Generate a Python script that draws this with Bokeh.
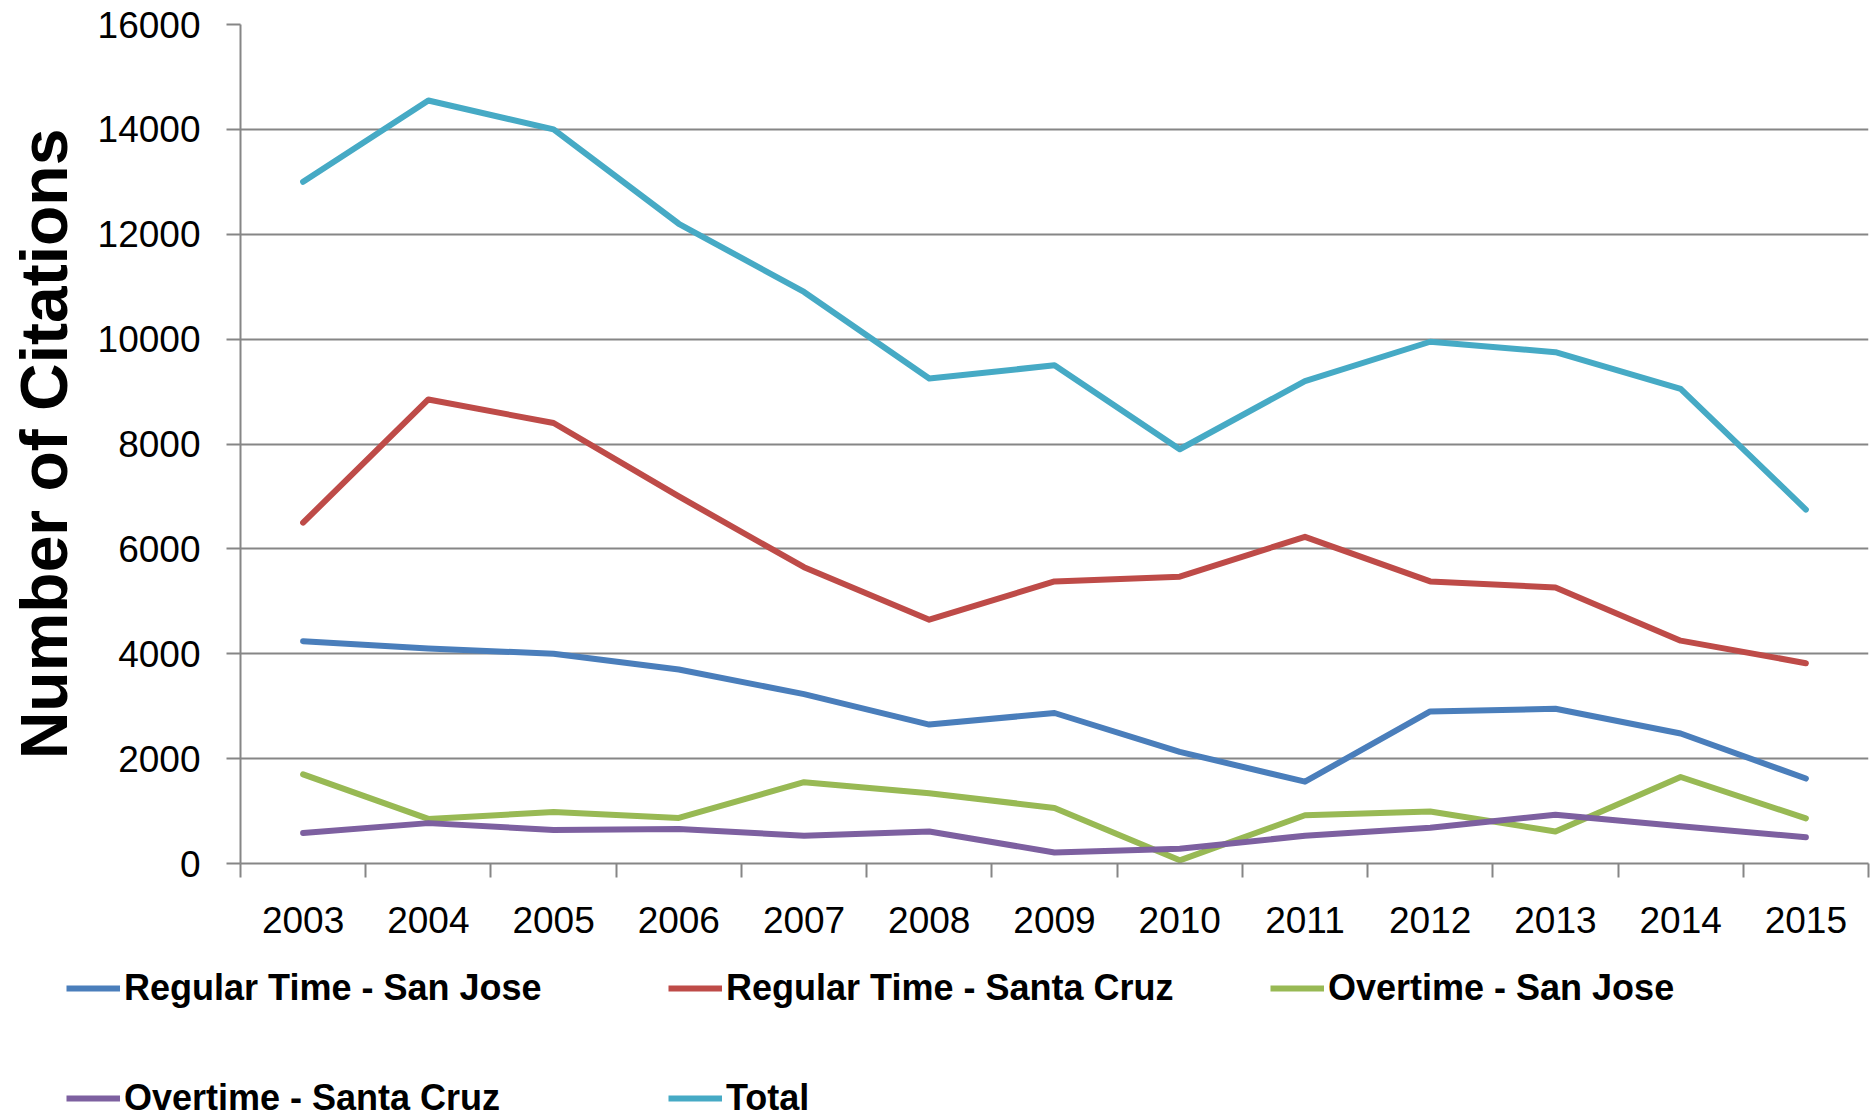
from bokeh.plotting import figure
from bokeh.models import Legend, LegendItem, FixedTicker, Range1d
from bokeh.layouts import column
from bokeh.embed import file_html
from bokeh.resources import INLINE

years = [2003, 2004, 2005, 2006, 2007, 2008, 2009, 2010, 2011, 2012, 2013, 2014, 2015]
regular_san_jose = [4240, 4100, 4000, 3700, 3230, 2650, 2870, 2130, 1560, 2900, 2950, 2480, 1620]
regular_santa_cruz = [6500, 8850, 8400, 7000, 5650, 4650, 5380, 5470, 6230, 5380, 5265, 4250, 3820]
overtime_san_jose = [1700, 850, 980, 870, 1550, 1340, 1060, 60, 920, 990, 610, 1650, 860]
overtime_santa_cruz = [580, 770, 640, 660, 530, 610, 210, 280, 530, 680, 930, 710, 500]
total = [13000, 14550, 14000, 12200, 10900, 9250, 9500, 7900, 9200, 9950, 9750, 9050, 6750]
y_ticks = [0, 2000, 4000, 6000, 8000, 10000, 12000, 14000, 16000]

series = [
    ("Regular Time - San Jose", regular_san_jose, "#4A7EBB"),
    ("Regular Time - Santa Cruz", regular_santa_cruz, "#BE4B48"),
    ("Overtime - San Jose", overtime_san_jose, "#98B954"),
    ("Overtime - Santa Cruz", overtime_santa_cruz, "#7D60A0"),
    ("Total", total, "#46AAC5"),
]

FONT = "Liberation Sans"
GREY = "#868686"
LW = 6

p = figure(width=1875, height=950, output_backend="svg", toolbar_location=None,
           x_range=Range1d(years[0] - 0.5, years[-1] + 0.5), y_range=Range1d(0, 16000),
           min_border_top=24, min_border_left=240, min_border_right=7, min_border_bottom=87)
p.outline_line_color = None
p.frame_align = False

for name, vals, col in series:
    p.line(years, vals, line_color=col, line_width=LW, line_join="round", line_cap="round")

# y axis
p.yaxis.ticker = FixedTicker(ticks=y_ticks)
p.yaxis.axis_line_color = GREY
p.yaxis.axis_line_width = 2
p.yaxis.major_tick_line_color = GREY
p.yaxis.major_tick_line_width = 2
p.yaxis.major_tick_out = 14
p.yaxis.major_tick_in = 0
p.yaxis.minor_tick_line_color = None
p.yaxis.major_label_text_font = FONT
p.yaxis.major_label_text_font_size = "37px"
p.yaxis.major_label_text_color = "black"
p.yaxis.major_label_standoff = 26
p.yaxis.axis_label = "Number of Citations"
p.yaxis.axis_label_text_font = FONT
p.yaxis.axis_label_text_font_style = "bold"
p.yaxis.axis_label_text_font_size = "66px"
p.yaxis.axis_label_text_color = "black"
p.yaxis.axis_label_standoff = 14

# x axis
p.xaxis.ticker = FixedTicker(ticks=years, minor_ticks=[y - 0.5 for y in years] + [years[-1] + 0.5])
p.xaxis.major_label_overrides = {y: str(y) for y in years}
p.xaxis.axis_line_color = GREY
p.xaxis.axis_line_width = 2
p.xaxis.major_tick_line_color = None
p.xaxis.major_tick_out = 0
p.xaxis.major_tick_in = 0
p.xaxis.minor_tick_line_color = GREY
p.xaxis.minor_tick_line_width = 2
p.xaxis.minor_tick_out = 14
p.xaxis.minor_tick_in = 0
p.xaxis.major_label_text_font = FONT
p.xaxis.major_label_text_font_size = "37px"
p.xaxis.major_label_text_color = "black"
p.xaxis.major_label_standoff = 29

p.xgrid.grid_line_color = None
p.ygrid.ticker = FixedTicker(ticks=y_ticks)
p.ygrid.grid_line_color = GREY
p.ygrid.grid_line_width = 2

# legend strip: same series, drawn outside its visible range so only the legend shows
pl = figure(width=1875, height=169, output_backend="svg", toolbar_location=None,
            x_range=Range1d(years[0] - 0.5, years[-1] + 0.5), y_range=Range1d(-2, -1),
            x_axis_location=None, y_axis_location=None,
            min_border_top=0, min_border_left=0, min_border_right=0, min_border_bottom=0)
pl.outline_line_color = None
pl.grid.grid_line_color = None
pl.frame_align = False
items = []
for name, vals, col in series:
    r = pl.line(years, vals, line_color=col, line_width=LW)
    items.append(LegendItem(label=name, renderers=[r]))

legend = Legend(items=items, ncols=3, orientation="horizontal", location=(66, 0),
                glyph_width=54, glyph_height=40, label_height=40, label_width=476,
                label_standoff=4, spacing=68, padding=0, margin=0,
                border_line_color=None, background_fill_alpha=0,
                label_text_font=FONT, label_text_font_style="bold",
                label_text_font_size="36px", label_text_color="black")
pl.add_layout(legend, "center")

open("out.html", "w").write(file_html(column(p, pl, spacing=0), INLINE))
